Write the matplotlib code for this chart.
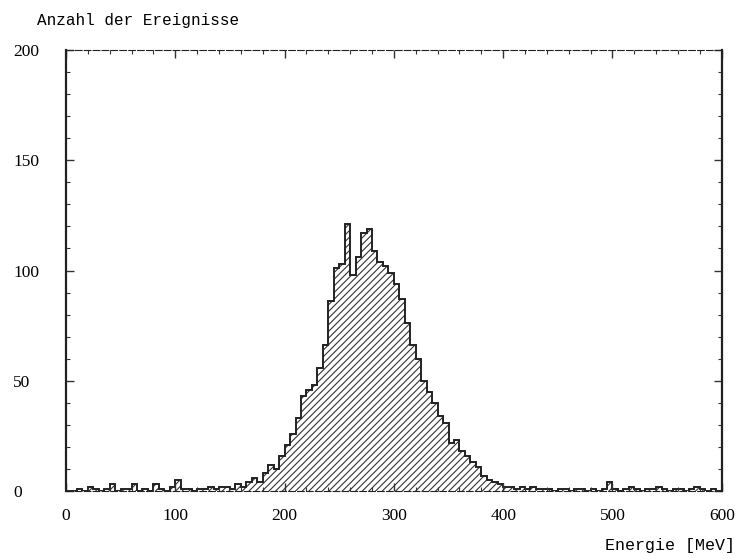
import matplotlib
matplotlib.use("Agg")
import matplotlib.pyplot as plt
import numpy as np

# bin edges 0..600 MeV in steps of 5
bin_width = 5
edges = np.arange(0, 600 + bin_width, bin_width)

# counts per 5 MeV bin
counts = [
    0, 0, 1, 0, 2, 1, 0, 1, 3, 0,
    1, 1, 3, 0, 1, 0, 3, 1, 0, 2,
    5, 1, 1, 0, 1, 1, 2, 1, 2, 2,
    1, 3, 2, 4, 6, 4, 8, 12, 10, 16,
    21, 26, 33, 43, 46, 48, 56, 66, 86, 101,
    103, 121, 98, 106, 117, 119, 109, 104, 102, 99,
    94, 87, 76, 66, 60, 50, 45, 40, 34, 31,
    22, 23, 18, 16, 13, 11, 7, 5, 4, 3,
    2, 2, 1, 2, 1, 2, 1, 1, 1, 0,
    1, 1, 0, 1, 1, 0, 1, 0, 1, 4,
    1, 0, 1, 2, 1, 0, 1, 1, 2, 1,
    0, 1, 1, 0, 1, 2, 1, 0, 1, 0,
]

x_ticks = [0, 100, 200, 300, 400, 500, 600]
y_ticks = [0, 50, 100, 150, 200]


def draw():
    fig = plt.figure(figsize=(7.38, 5.59), dpi=100)
    ax = fig.add_axes([0.0894, 0.1216, 0.8886, 0.789])

    plt.rcParams["hatch.linewidth"] = 0.8
    ax.stairs(counts, edges, fill=True, facecolor="white",
              edgecolor="#333333", hatch="/////", linewidth=0)
    ax.stairs(counts, edges, color="#222222", linewidth=1.4)

    ax.set_xlim(0, 600)
    ax.set_ylim(0, 200)

    ax.set_xticks(x_ticks)
    ax.set_xticks(np.arange(0, 601, 20), minor=True)
    ax.set_yticks(y_ticks)
    ax.set_yticks(np.arange(0, 201, 10), minor=True)
    ax.tick_params(which="both", direction="in", top=True, right=True,
                   color="#333333")
    ax.tick_params(which="major", length=6, width=1)
    ax.tick_params(which="minor", length=3, width=0.8)

    ax.set_xticklabels([str(t) for t in x_ticks],
                       fontfamily="Liberation Serif", fontsize=12.5)
    ax.set_yticklabels([str(t) for t in y_ticks],
                       fontfamily="Liberation Serif", fontsize=12.5)
    ax.tick_params(axis="x", pad=12)
    ax.tick_params(axis="y", pad=38)
    for lab in ax.get_yticklabels():
        lab.set_horizontalalignment("left")

    for side in ["left", "right"]:
        ax.spines[side].set_linewidth(1.6)
    for side in ["top", "bottom"]:
        ax.spines[side].set_linewidth(0.8)
        ax.spines[side].set_linestyle((0, (6, 2)))
    for sp in ax.spines.values():
        sp.set_color("#222222")

    fig.text(0.05, 0.963, "Anzahl der Ereignisse", fontfamily="Liberation Mono",
             fontsize=11.5, va="center", ha="left")
    fig.text(0.996, 0.025, "Energie [MeV]", fontfamily="Liberation Mono",
             fontsize=12, va="center", ha="right")

    fig.savefig("out.png", dpi=100)


if __name__ == "__main__":
    draw()
